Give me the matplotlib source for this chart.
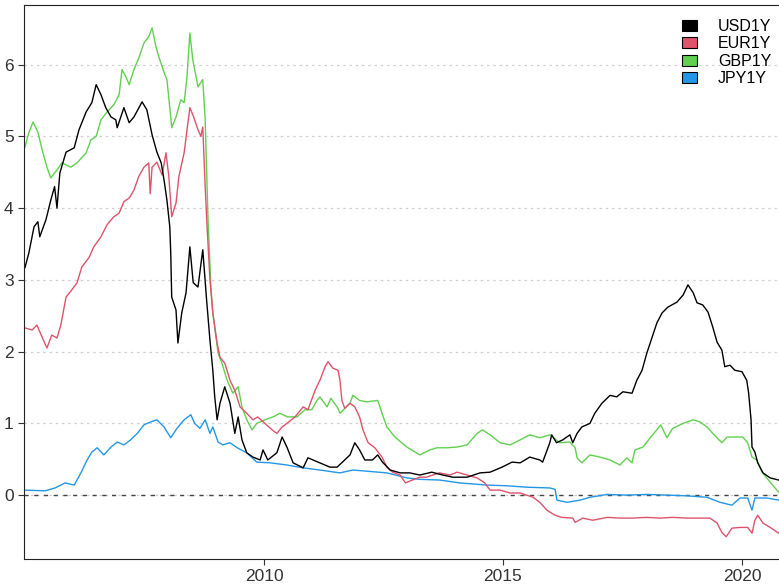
import matplotlib.pyplot as plt
from matplotlib.patches import Patch

# 1-year rates (decimal year, percent)
usd_t = [2005.00, 2005.08, 2005.19, 2005.27, 2005.31, 2005.44, 2005.54, 2005.62, 2005.67, 2005.73,
         2005.86, 2006.03, 2006.13, 2006.28, 2006.40, 2006.49, 2006.59, 2006.69, 2006.80, 2006.90,
         2006.93, 2007.07, 2007.18, 2007.28, 2007.45, 2007.55, 2007.66, 2007.76, 2007.85, 2007.91,
         2007.97, 2008.03, 2008.05, 2008.07, 2008.16, 2008.20, 2008.28, 2008.37, 2008.45, 2008.52,
         2008.62, 2008.72, 2008.80, 2008.87, 2008.93, 2008.97, 2009.02, 2009.08, 2009.18, 2009.29,
         2009.39, 2009.46, 2009.54, 2009.64, 2009.77, 2009.92, 2009.98, 2010.08, 2010.27, 2010.38,
         2010.48, 2010.61, 2010.82, 2010.92, 2011.17, 2011.38, 2011.53, 2011.69, 2011.80, 2011.90,
         2012.00, 2012.11, 2012.27, 2012.38, 2012.48, 2012.64, 2012.85, 2013.05, 2013.26, 2013.51,
         2013.74, 2013.95, 2014.25, 2014.52, 2014.73, 2014.98, 2015.19, 2015.36, 2015.56, 2015.77,
         2015.83, 2015.98, 2016.02, 2016.12, 2016.25, 2016.40, 2016.46, 2016.55, 2016.65, 2016.82,
         2016.92, 2017.07, 2017.24, 2017.38, 2017.51, 2017.70, 2017.80, 2017.91, 2018.01, 2018.12,
         2018.22, 2018.33, 2018.45, 2018.64, 2018.77, 2018.87, 2018.98, 2019.06, 2019.18, 2019.29,
         2019.39, 2019.48, 2019.58, 2019.64, 2019.75, 2019.85, 2020.00, 2020.10, 2020.14, 2020.19,
         2020.21, 2020.27, 2020.33, 2020.44, 2020.59, 2020.77]
usd_v = [3.17, 3.37, 3.74, 3.81, 3.60, 3.84, 4.11, 4.30, 4.00, 4.49,
         4.78, 4.84, 5.09, 5.34, 5.47, 5.72, 5.58, 5.40, 5.27, 5.23,
         5.12, 5.40, 5.19, 5.27, 5.48, 5.37, 5.02, 4.78, 4.63, 4.39,
         4.11, 3.74, 3.37, 2.76, 2.58, 2.12, 2.54, 2.82, 3.46, 2.96,
         2.90, 3.42, 2.72, 2.16, 1.74, 1.37, 1.05, 1.28, 1.51, 1.28,
         0.86, 1.09, 0.77, 0.59, 0.53, 0.49, 0.63, 0.49, 0.59, 0.81,
         0.67, 0.45, 0.38, 0.52, 0.45, 0.39, 0.39, 0.49, 0.56, 0.73,
         0.63, 0.49, 0.49, 0.56, 0.46, 0.35, 0.31, 0.31, 0.28, 0.32,
         0.28, 0.25, 0.25, 0.31, 0.32, 0.39, 0.46, 0.45, 0.53, 0.49,
         0.46, 0.73, 0.84, 0.73, 0.77, 0.84, 0.73, 0.86, 0.95, 1.00,
         1.14, 1.28, 1.39, 1.37, 1.44, 1.42, 1.60, 1.74, 1.98, 2.20,
         2.40, 2.54, 2.62, 2.69, 2.79, 2.93, 2.82, 2.68, 2.65, 2.55,
         2.34, 2.13, 2.02, 1.79, 1.81, 1.74, 1.72, 1.60, 1.42, 1.05,
         0.67, 0.60, 0.45, 0.31, 0.24, 0.21]

eur_t = [2005.00, 2005.15, 2005.25, 2005.36, 2005.46, 2005.56, 2005.67, 2005.75, 2005.86, 2005.98,
         2006.09, 2006.19, 2006.34, 2006.44, 2006.59, 2006.72, 2006.86, 2006.97, 2007.07, 2007.18,
         2007.28, 2007.38, 2007.49, 2007.59, 2007.62, 2007.66, 2007.76, 2007.87, 2007.95, 2008.01,
         2008.07, 2008.16, 2008.22, 2008.33, 2008.39, 2008.45, 2008.53, 2008.62, 2008.68, 2008.72,
         2008.77, 2008.81, 2008.87, 2008.93, 2009.02, 2009.08, 2009.18, 2009.29, 2009.39, 2009.50,
         2009.64, 2009.77, 2009.87, 2010.02, 2010.17, 2010.27, 2010.38, 2010.48, 2010.65, 2010.82,
         2010.92, 2011.07, 2011.17, 2011.28, 2011.34, 2011.44, 2011.55, 2011.59, 2011.63, 2011.69,
         2011.80, 2011.90, 2012.00, 2012.07, 2012.18, 2012.32, 2012.47, 2012.57, 2012.69, 2012.85,
         2012.96, 2013.10, 2013.26, 2013.40, 2013.53, 2013.67, 2013.89, 2014.04, 2014.25, 2014.46,
         2014.62, 2014.73, 2014.94, 2015.15, 2015.36, 2015.63, 2015.77, 2015.92, 2016.09, 2016.23,
         2016.46, 2016.51, 2016.67, 2016.88, 2017.18, 2017.45, 2017.72, 2018.00, 2018.28, 2018.55,
         2018.85, 2019.12, 2019.33, 2019.48, 2019.58, 2019.67, 2019.79, 2019.96, 2020.12, 2020.21,
         2020.27, 2020.33, 2020.44, 2020.59, 2020.77]
eur_v = [2.33, 2.30, 2.37, 2.20, 2.05, 2.23, 2.19, 2.37, 2.76, 2.86,
         2.96, 3.18, 3.31, 3.46, 3.60, 3.77, 3.88, 3.93, 4.09, 4.14,
         4.25, 4.44, 4.57, 4.63, 4.20, 4.57, 4.64, 4.46, 4.77, 4.44,
         3.88, 4.07, 4.44, 4.77, 5.09, 5.40, 5.27, 5.09, 5.00, 5.13,
         4.30, 3.74, 3.00, 2.54, 2.12, 1.92, 1.84, 1.60, 1.46, 1.23,
         1.14, 1.05, 1.09, 1.00, 0.91, 0.86, 0.95, 1.00, 1.09, 1.23,
         1.19, 1.46, 1.60, 1.79, 1.86, 1.77, 1.74, 1.60, 1.32, 1.21,
         1.28, 1.23, 1.09, 0.91, 0.73, 0.66, 0.53, 0.39, 0.32, 0.28,
         0.17, 0.21, 0.25, 0.25, 0.28, 0.31, 0.28, 0.32, 0.28, 0.24,
         0.17, 0.07, 0.07, 0.03, 0.03, -0.03, -0.10, -0.21, -0.28, -0.31,
         -0.32, -0.38, -0.32, -0.35, -0.31, -0.32, -0.32, -0.31, -0.32, -0.31,
         -0.32, -0.32, -0.32, -0.39, -0.52, -0.58, -0.46, -0.45, -0.45, -0.53,
         -0.35, -0.28, -0.39, -0.45, -0.53]

gbp_t = [2005.00, 2005.08, 2005.17, 2005.27, 2005.36, 2005.46, 2005.54, 2005.67, 2005.77, 2005.96,
         2006.09, 2006.28, 2006.38, 2006.49, 2006.59, 2006.72, 2006.86, 2006.97, 2007.03, 2007.11,
         2007.18, 2007.28, 2007.38, 2007.49, 2007.59, 2007.66, 2007.74, 2007.80, 2007.91, 2007.97,
         2008.05, 2008.07, 2008.16, 2008.26, 2008.33, 2008.39, 2008.45, 2008.51, 2008.62, 2008.72,
         2008.77, 2008.83, 2008.89, 2008.93, 2009.04, 2009.12, 2009.23, 2009.35, 2009.46, 2009.54,
         2009.64, 2009.75, 2009.85, 2010.02, 2010.19, 2010.33, 2010.50, 2010.69, 2010.86, 2011.00,
         2011.11, 2011.17, 2011.32, 2011.40, 2011.55, 2011.59, 2011.80, 2011.86, 2012.00, 2012.15,
         2012.38, 2012.47, 2012.57, 2012.74, 2012.99, 2013.26, 2013.47, 2013.62, 2013.83, 2014.04,
         2014.25, 2014.46, 2014.57, 2014.73, 2014.94, 2015.15, 2015.36, 2015.56, 2015.77, 2015.98,
         2016.19, 2016.40, 2016.51, 2016.55, 2016.65, 2016.82, 2017.03, 2017.24, 2017.45, 2017.59,
         2017.70, 2017.76, 2017.93, 2018.08, 2018.22, 2018.30, 2018.43, 2018.55, 2018.77, 2018.98,
         2019.12, 2019.27, 2019.39, 2019.58, 2019.69, 2019.90, 2020.02, 2020.12, 2020.21, 2020.31,
         2020.42, 2020.59, 2020.77]
gbp_v = [4.85, 5.05, 5.20, 5.06, 4.81, 4.57, 4.42, 4.53, 4.63, 4.57,
         4.63, 4.77, 4.95, 5.00, 5.23, 5.34, 5.44, 5.58, 5.93, 5.83,
         5.72, 5.93, 6.09, 6.30, 6.39, 6.51, 6.25, 6.11, 5.89, 5.79,
         5.27, 5.12, 5.27, 5.51, 5.47, 5.83, 6.44, 6.07, 5.69, 5.79,
         5.23, 3.84, 2.90, 2.54, 1.98, 1.84, 1.60, 1.42, 1.51, 1.23,
         1.05, 0.91, 1.00, 1.05, 1.09, 1.14, 1.09, 1.09, 1.19, 1.19,
         1.32, 1.37, 1.23, 1.35, 1.21, 1.14, 1.28, 1.39, 1.32, 1.30,
         1.32, 1.14, 0.95, 0.81, 0.67, 0.56, 0.63, 0.66, 0.66, 0.67,
         0.70, 0.86, 0.91, 0.84, 0.73, 0.70, 0.77, 0.84, 0.80, 0.84,
         0.73, 0.74, 0.66, 0.52, 0.45, 0.56, 0.53, 0.49, 0.42, 0.52,
         0.45, 0.63, 0.67, 0.80, 0.91, 0.98, 0.80, 0.93, 1.00, 1.05,
         1.02, 0.95, 0.86, 0.73, 0.81, 0.81, 0.81, 0.73, 0.53, 0.49,
         0.32, 0.18, 0.04]

jpy_t = [2005.00, 2005.42, 2005.63, 2005.84, 2006.03, 2006.17, 2006.30, 2006.40, 2006.51, 2006.65,
         2006.80, 2006.93, 2007.07, 2007.21, 2007.35, 2007.49, 2007.63, 2007.76, 2007.91, 2008.05,
         2008.18, 2008.33, 2008.47, 2008.55, 2008.66, 2008.77, 2008.87, 2008.93, 2009.04, 2009.14,
         2009.29, 2009.44, 2009.64, 2009.85, 2010.13, 2010.48, 2010.82, 2011.17, 2011.59, 2011.86,
         2012.57, 2012.99, 2013.26, 2013.68, 2014.10, 2014.67, 2015.09, 2015.51, 2015.98, 2016.09,
         2016.13, 2016.34, 2016.61, 2016.82, 2017.18, 2017.59, 2018.01, 2018.43, 2018.85, 2019.27,
         2019.54, 2019.79, 2019.96, 2020.12, 2020.21, 2020.27, 2020.52, 2020.77]
jpy_v = [0.07, 0.06, 0.10, 0.17, 0.14, 0.31, 0.49, 0.60, 0.66, 0.56,
         0.67, 0.74, 0.70, 0.77, 0.86, 0.98, 1.02, 1.05, 0.95, 0.80,
         0.93, 1.05, 1.12, 1.00, 0.93, 1.05, 0.86, 0.95, 0.74, 0.70,
         0.73, 0.66, 0.59, 0.46, 0.45, 0.42, 0.38, 0.35, 0.31, 0.35,
         0.31, 0.24, 0.22, 0.21, 0.17, 0.14, 0.13, 0.11, 0.10, 0.08,
         -0.07, -0.10, -0.07, -0.03, 0.01, 0.00, 0.01, 0.00, -0.01, -0.03,
         -0.10, -0.14, -0.04, -0.04, -0.21, -0.04, -0.04, -0.07]

names = ["USD1Y", "EUR1Y", "GBP1Y", "JPY1Y"]
colors = ["black", "#DF536B", "#61D04F", "#2297E6"]

plt.rcParams["font.family"] = ["Liberation Sans", "DejaVu Sans"]

fig = plt.figure(figsize=(7.79, 5.87), dpi=100)
ax = fig.add_axes([24 / 779, 28 / 587, 758.6 / 779, 554 / 587])

series = [(usd_t, usd_v), (eur_t, eur_v), (gbp_t, gbp_v), (jpy_t, jpy_v)]
# draw in reverse so USD ends up on top
for (t, v), c in reversed(list(zip(series, colors))):
    ax.plot(t, v, color=c, lw=1.0)

ax.axhline(0, color="#444444", lw=1.0, ls=(0, (3, 4)), zorder=1)

ax.set_xlim(2004.98, 2020.85)
ax.set_ylim(-0.89, 6.83)
ax.set_xticks([2010, 2015, 2020])
ax.set_yticks(range(0, 7))
ax.grid(axis="y", color="#d0d0d0", ls=(0, (2, 3)), lw=0.9)
ax.set_axisbelow(True)
ax.tick_params(labelsize=12.5, labelcolor="#333333", length=4, color="#333333")
for s in ["top", "bottom", "left", "right"]:
    ax.spines[s].set_color("#222222")

handles = [Patch(facecolor=c, edgecolor="black", lw=0.8) for c in colors]
ax.legend(handles, names, loc="upper right", bbox_to_anchor=(1.0, 0.995), frameon=False,
          fontsize=11.5, handlelength=0.95, handleheight=0.7, handletextpad=1.3,
          labelspacing=0.15, borderaxespad=0.3)

fig.savefig("out.png", dpi=100)
